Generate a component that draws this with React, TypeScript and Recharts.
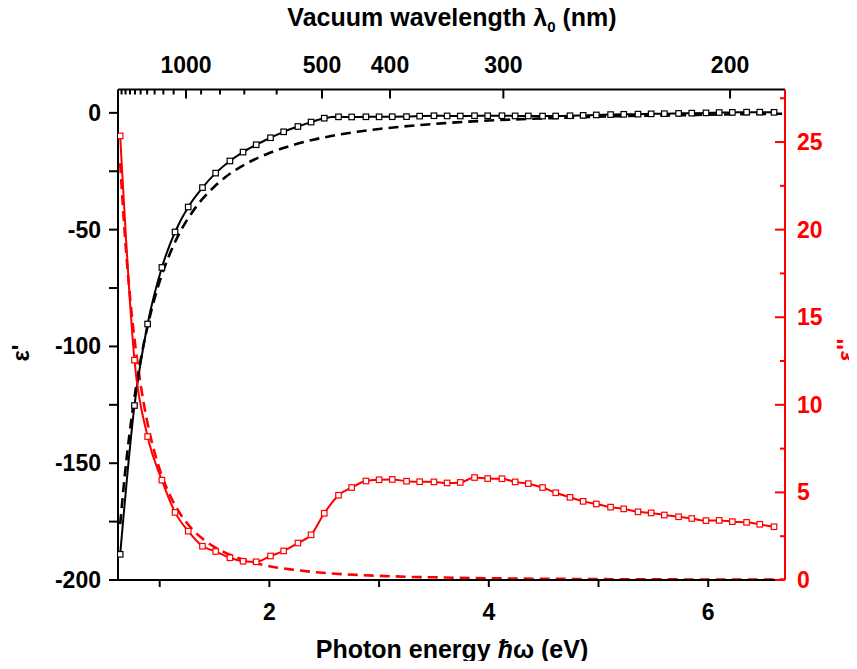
import React from "react";
import { ComposedChart, Line, XAxis, YAxis } from "recharts";

// measured points (photon energy in eV)
const energy = [
  0.64, 0.77, 0.89, 1.02, 1.14, 1.26, 1.39, 1.51, 1.64, 1.76, 1.88, 2.01, 2.13,
  2.26, 2.38, 2.5, 2.63, 2.75, 2.88, 3.0, 3.12, 3.25, 3.37, 3.5, 3.62, 3.74,
  3.87, 3.99, 4.12, 4.24, 4.36, 4.49, 4.61, 4.74, 4.86, 4.98, 5.11, 5.23, 5.36,
  5.48, 5.6, 5.73, 5.85, 5.98, 6.1, 6.22, 6.35, 6.47, 6.6,
];
const epsReal = [
  -189.0, -125.3, -90.4, -66.2, -51.0, -40.3, -32.0, -25.8, -20.6, -16.8,
  -13.65, -10.66, -8.11, -5.84, -3.95, -2.28, -1.7, -1.76, -1.69, -1.7, -1.65,
  -1.61, -1.4, -1.23, -1.31, -1.36, -1.23, -1.24, -1.23, -1.31, -1.33, -1.37,
  -1.35, -1.24, -1.08, -0.89, -0.74, -0.62, -0.55, -0.42, -0.35, -0.23, -0.13,
  -0.01, 0.14, 0.2, 0.29, 0.3, 0.23,
];
const epsImag = [
  25.35, 12.55, 8.19, 5.7, 3.86, 2.79, 1.93, 1.63, 1.27, 1.07, 1.04, 1.37, 1.66,
  2.11, 2.58, 3.81, 4.84, 5.28, 5.65, 5.72, 5.74, 5.64, 5.61, 5.6, 5.54, 5.57,
  5.85, 5.79, 5.78, 5.6, 5.5, 5.28, 4.98, 4.72, 4.49, 4.34, 4.16, 4.06, 3.89,
  3.83, 3.71, 3.61, 3.51, 3.39, 3.4, 3.33, 3.29, 3.18, 3.04,
];

// dashed curves
const drudeEnergy = [
  0.64, 0.68, 0.72, 0.76, 0.8, 0.85, 0.9, 0.95, 1.0, 1.1, 1.2, 1.3, 1.4, 1.5,
  1.6, 1.8, 2.0, 2.2, 2.4, 2.6, 2.8, 3.0, 3.3, 3.6, 4.0, 4.4, 4.8, 5.2, 5.6,
  6.0, 6.4, 6.69,
];
const drudeReal = [
  -176.1, -156.1, -139.4, -125.1, -112.9, -100.0, -89.2, -80.0, -72.1, -59.5,
  -49.8, -42.3, -36.3, -31.5, -27.5, -21.5, -17.2, -14.0, -11.5, -9.6, -8.1,
  -6.9, -5.5, -4.4, -3.3, -2.5, -1.9, -1.4, -1.1, -0.8, -0.5, -0.35,
];
const drudeImag = [
  23.8, 19.9, 16.8, 14.3, 12.3, 10.25, 8.64, 7.36, 6.31, 4.75, 3.66, 2.88, 2.31,
  1.88, 1.55, 1.09, 0.79, 0.6, 0.46, 0.36, 0.29, 0.235, 0.18, 0.14, 0.1, 0.075,
  0.058, 0.045, 0.036, 0.029, 0.024, 0.021,
];

const bottomTicks = [1, 2, 3, 4, 5, 6];
const bottomLabels = [2, 4, 6];
const leftTicks = [-200, -175, -150, -125, -100, -75, -50, -25, 0];
const leftLabels = [-200, -150, -100, -50, 0];
const rightTicks = [0, 2.5, 5, 7.5, 10, 12.5, 15, 17.5, 20, 22.5, 25, 27.5];
const rightLabels = [0, 5, 10, 15, 20, 25];
const wavelengthMajor = [1000, 500, 400, 300, 200];
const wavelengthMinor = [1900, 1800, 1700, 1600, 1500, 1400, 1300, 1200, 1100, 900, 800, 700, 600];

const HC = 1239.84;
const topTicks = [...wavelengthMinor, ...wavelengthMajor].map((nm) => HC / nm);

const measured = energy.map((x, i) => ({ x, re: epsReal[i], im: epsImag[i] }));
const drude = drudeEnergy.map((x, i) => ({ x, re: drudeReal[i], im: drudeImag[i] }));

const FONT = "'Liberation Sans', Arial, sans-serif";
const RED = "#ff0000";

const squareDot = (color: string) => (props: any) => {
  const { cx, cy, index } = props;
  if (cx == null || cy == null) return <g key={index} />;
  return (
    <rect
      key={index}
      x={cx - 2.75}
      y={cy - 2.75}
      width={5.5}
      height={5.5}
      fill="#fff"
      stroke={color}
      strokeWidth={1.2}
    />
  );
};

const BottomTick = (props: any) => {
  const { x, y, payload } = props;
  const v = payload.value;
  return (
    <g>
      <line x1={x} y1={y} x2={x} y2={y + 7} stroke="#000" strokeWidth={2} />
      {bottomLabels.includes(v) && (
        <text x={x} y={y + 40} textAnchor="middle" fontFamily={FONT} fontWeight="bold" fontSize={23} fill="#000">
          {v}
        </text>
      )}
    </g>
  );
};

const TopTick = (props: any) => {
  const { x, y, payload } = props;
  const nm = Math.round(HC / payload.value);
  const major = wavelengthMajor.includes(nm);
  return (
    <g>
      <line x1={x} y1={y} x2={x} y2={y + (major ? 9 : 5)} stroke="#000" strokeWidth={2} />
      {major && (
        <text x={x} y={y - 17} textAnchor="middle" fontFamily={FONT} fontWeight="bold" fontSize={23} fill="#000">
          {nm}
        </text>
      )}
    </g>
  );
};

const LeftTick = (props: any) => {
  const { x, y, payload } = props;
  const v = payload.value;
  return (
    <g>
      <line x1={x - 9} y1={y} x2={x} y2={y} stroke="#000" strokeWidth={2} />
      {leftLabels.includes(v) && (
        <text x={x - 17} y={y + 8} textAnchor="end" fontFamily={FONT} fontWeight="bold" fontSize={23} fill="#000">
          {v}
        </text>
      )}
    </g>
  );
};

const RightTick = (props: any) => {
  const { x, y, payload } = props;
  const v = payload.value;
  const major = rightLabels.includes(v);
  return (
    <g>
      <line x1={x - (major ? 10 : 5)} y1={y} x2={x} y2={y} stroke={RED} strokeWidth={2} />
      {major && (
        <text x={x + 12} y={y + 8} textAnchor="start" fontFamily={FONT} fontWeight="bold" fontSize={23} fill={RED}>
          {v}
        </text>
      )}
    </g>
  );
};

export default function App() {
  return (
    <div style={{ margin: -8, width: 857, height: 669, position: "relative", background: "#fff" }}>
      <ComposedChart
        width={857}
        height={669}
        margin={{ top: 49.5, right: 12, bottom: 49, left: 58 }}
      >
        <XAxis
          xAxisId="bottom"
          dataKey="x"
          type="number"
          domain={[0.62, 6.7]}
          allowDataOverflow
          ticks={bottomTicks}
          interval={0}
          height={40}
          tickSize={0}
          tickMargin={0}
          tickLine={false}
          axisLine={{ stroke: "#000", strokeWidth: 2 }}
          tick={<BottomTick />}
        />
        <XAxis
          xAxisId="top"
          orientation="top"
          dataKey="x"
          type="number"
          domain={[0.62, 6.7]}
          allowDataOverflow
          ticks={topTicks}
          interval={0}
          height={40}
          tickSize={0}
          tickMargin={0}
          tickLine={false}
          axisLine={{ stroke: "#000", strokeWidth: 2 }}
          tick={<TopTick />}
        />
        <YAxis
          yAxisId="left"
          type="number"
          domain={[-200, 10]}
          allowDataOverflow
          ticks={leftTicks}
          interval={0}
          width={60}
          tickSize={0}
          tickMargin={0}
          tickLine={false}
          axisLine={{ stroke: "#000", strokeWidth: 2 }}
          tick={<LeftTick />}
        />
        <YAxis
          yAxisId="right"
          orientation="right"
          type="number"
          domain={[0, 28]}
          allowDataOverflow
          ticks={rightTicks}
          interval={0}
          width={60}
          tickSize={0}
          tickMargin={0}
          tickLine={false}
          axisLine={{ stroke: RED, strokeWidth: 2 }}
          tick={<RightTick />}
        />
        <Line
          data={drude}
          dataKey="re"
          xAxisId="bottom"
          yAxisId="left"
          type="monotone"
          stroke="#000"
          strokeWidth={2.6}
          strokeDasharray="10 6"
          dot={false}
          isAnimationActive={false}
        />
        <Line
          data={drude}
          dataKey="im"
          xAxisId="bottom"
          yAxisId="right"
          type="monotone"
          stroke={RED}
          strokeWidth={2.6}
          strokeDasharray="10 6"
          dot={false}
          isAnimationActive={false}
        />
        <Line
          data={measured}
          dataKey="re"
          xAxisId="bottom"
          yAxisId="left"
          type="monotone"
          stroke="#000"
          strokeWidth={2}
          dot={squareDot("#000")}
          isAnimationActive={false}
        />
        <Line
          data={measured}
          dataKey="im"
          xAxisId="bottom"
          yAxisId="right"
          type="monotone"
          stroke={RED}
          strokeWidth={2}
          dot={squareDot(RED)}
          isAnimationActive={false}
        />
      </ComposedChart>
      <svg
        width={857}
        height={669}
        style={{ position: "absolute", left: 0, top: 0, pointerEvents: "none" }}
      >
        <text x={452} y={26} textAnchor="middle" fontFamily={FONT} fontWeight="bold" fontSize={25} fill="#000">
          Vacuum wavelength λ<tspan fontSize={15} dy={6}>0</tspan>
          <tspan dy={-6}> (nm)</tspan>
        </text>
        <text x={452} y={658} textAnchor="middle" fontFamily={FONT} fontWeight="bold" fontSize={25} fill="#000">
          Photon energy <tspan fontStyle="italic">ħ</tspan>ω (eV)
        </text>
        <text
          x={0}
          y={0}
          transform="translate(20 353) rotate(-90)"
          textAnchor="middle"
          dominantBaseline="central"
          fontFamily={FONT}
          fontWeight="bold"
          fontSize={24}
          fill="#000"
        >
          ε'
        </text>
        <text
          x={0}
          y={0}
          transform="translate(845 350) rotate(-90)"
          textAnchor="middle"
          dominantBaseline="central"
          fontFamily={FONT}
          fontWeight="bold"
          fontSize={24}
          fill={RED}
        >
          ε''
        </text>
      </svg>
    </div>
  );
}
